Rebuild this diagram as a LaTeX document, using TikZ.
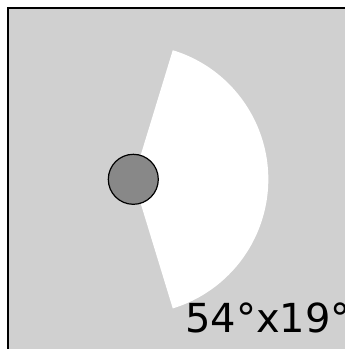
\documentclass[tikz,border=0pt]{standalone}
\usepackage{fontspec}
\setmainfont{DejaVu Sans}
\newfontfamily\lblfont[FakeBold=-0.6]{DejaVu Sans}
\begin{document}
\begin{tikzpicture}[x=1pt,y=-1pt,
  bgframe/.style={fill=bggray,draw=black,line width=1.2pt},
  fov/.style={fill=white,draw=none},
  sensor/.style={circle,fill=sensgray,draw=black,line width=1.2pt,minimum size=50pt,inner sep=0pt},
  lbl/.style={font=\lblfont\fontsize{40}{42}\selectfont,anchor=base west,inner sep=0pt}]
\definecolor{bggray}{HTML}{D0D0D0}
\definecolor{sensgray}{HTML}{888888}
\useasboundingbox (0,0) rectangle (345,349);
\begin{scope}
\clip (0,0) rectangle (345,349);
\draw[bgframe] (8,8) rectangle (400,400);
\coordinate (c) at (133.3,179.3);
\fill[fov] (c) -- ++(-73:135) arc[start angle=-73, end angle=73, radius=135] -- cycle;
\node[sensor] (s) at (c) {};
\node[lbl] (t) at (185,332) {54°x19°};
\end{scope}
\end{tikzpicture}
\end{document}
